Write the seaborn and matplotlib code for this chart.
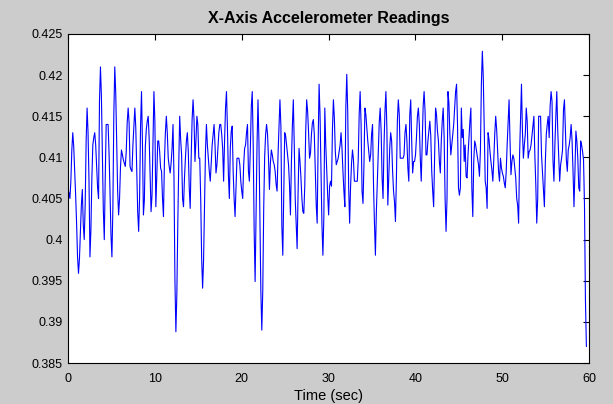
import numpy as np
import pandas as pd
import matplotlib
matplotlib.use("Agg")
import matplotlib.pyplot as plt
import seaborn as sns

# ---- data ----
accel_0_15 = [0.4061, 0.4057, 0.4050, 0.4071, 0.4109, 0.4130, 0.4113, 0.4085, 0.4054, 0.4020, 0.3979, 0.3959, 0.3977, 0.4010, 0.4042, 0.4061, 0.4018, 0.4000, 0.4042, 0.4120, 0.4160, 0.4130, 0.4071, 0.3979, 0.4012, 0.4075, 0.4115, 0.4124, 0.4130, 0.4115, 0.4089, 0.4063, 0.4050, 0.4170, 0.4210, 0.4174, 0.4103, 0.4036, 0.4000, 0.4075, 0.4140, 0.4140, 0.4140, 0.4105, 0.4059, 0.4006, 0.3979, 0.4038, 0.4152, 0.4210, 0.4178, 0.4120, 0.4059, 0.4030, 0.4050, 0.4089, 0.4109, 0.4103, 0.4097, 0.4093, 0.4089, 0.4107, 0.4142, 0.4160, 0.4142, 0.4089, 0.4085, 0.4083, 0.4115, 0.4138, 0.4160, 0.4136, 0.4085, 0.4034, 0.4010, 0.4052, 0.4138, 0.4180, 0.4115, 0.4030, 0.4048, 0.4113, 0.4134, 0.4144, 0.4150, 0.4124, 0.4081, 0.4034, 0.4054, 0.4120, 0.4180, 0.4144, 0.4040, 0.4077, 0.4120, 0.4120, 0.4107, 0.4087, 0.4083, 0.4050, 0.4028, 0.4095, 0.4130, 0.4150, 0.4130, 0.4099, 0.4089, 0.4081, 0.4093, 0.4111, 0.4140, 0.4077, 0.3951, 0.3888, 0.3933, 0.4018, 0.4091, 0.4150, 0.4122, 0.4103, 0.4050, 0.4040, 0.4075, 0.4099, 0.4120, 0.4130, 0.4107, 0.4063, 0.4038, 0.4099, 0.4146, 0.4170, 0.4146, 0.4095, 0.4120, 0.4150, 0.4140, 0.4099]
accel_15_30 = [0.4099, 0.4050, 0.3977, 0.3941, 0.3975, 0.4042, 0.4107, 0.4140, 0.4115, 0.4099, 0.4083, 0.4071, 0.4093, 0.4115, 0.4128, 0.4140, 0.4115, 0.4081, 0.4091, 0.4111, 0.4130, 0.4140, 0.4140, 0.4128, 0.4111, 0.4071, 0.4120, 0.4160, 0.4180, 0.4136, 0.4079, 0.4050, 0.4111, 0.4132, 0.4138, 0.4083, 0.4050, 0.4028, 0.4063, 0.4099, 0.4099, 0.4099, 0.4091, 0.4071, 0.4059, 0.4050, 0.4091, 0.4111, 0.4115, 0.4130, 0.4140, 0.4083, 0.4071, 0.4111, 0.4162, 0.4180, 0.4115, 0.4010, 0.3949, 0.4034, 0.4115, 0.4170, 0.4120, 0.4030, 0.3937, 0.3890, 0.3937, 0.4038, 0.4101, 0.4128, 0.4140, 0.4128, 0.4099, 0.4061, 0.4093, 0.4109, 0.4103, 0.4095, 0.4091, 0.4083, 0.4067, 0.4059, 0.4103, 0.4138, 0.4170, 0.4138, 0.4016, 0.3981, 0.4052, 0.4130, 0.4126, 0.4115, 0.4103, 0.4091, 0.4067, 0.4030, 0.4093, 0.4138, 0.4170, 0.4115, 0.4050, 0.4020, 0.3989, 0.4057, 0.4111, 0.4095, 0.4075, 0.4050, 0.4034, 0.4032, 0.4065, 0.4132, 0.4170, 0.4156, 0.4130, 0.4099, 0.4105, 0.4128, 0.4142, 0.4146, 0.4128, 0.4085, 0.4042, 0.4020, 0.4115, 0.4189, 0.4152, 0.4085, 0.4018, 0.3981, 0.4028, 0.4160, 0.4115, 0.4085, 0.4054, 0.4030, 0.4065, 0.4071]
accel_30_45 = [0.4065, 0.4134, 0.4170, 0.4148, 0.4107, 0.4091, 0.4095, 0.4099, 0.4107, 0.4115, 0.4130, 0.4111, 0.4083, 0.4059, 0.4040, 0.4160, 0.4201, 0.4156, 0.4063, 0.4020, 0.4065, 0.4093, 0.4109, 0.4097, 0.4071, 0.4071, 0.4071, 0.4071, 0.4097, 0.4152, 0.4180, 0.4140, 0.4059, 0.4044, 0.4091, 0.4160, 0.4152, 0.4136, 0.4120, 0.4107, 0.4095, 0.4103, 0.4128, 0.4140, 0.4067, 0.4020, 0.3981, 0.4034, 0.4071, 0.4107, 0.4142, 0.4160, 0.4132, 0.4075, 0.4050, 0.4115, 0.4156, 0.4180, 0.4136, 0.4042, 0.4075, 0.4111, 0.4130, 0.4120, 0.4083, 0.4059, 0.4046, 0.4022, 0.4075, 0.4144, 0.4170, 0.4152, 0.4099, 0.4099, 0.4099, 0.4099, 0.4103, 0.4130, 0.4140, 0.4120, 0.4087, 0.4071, 0.4152, 0.4170, 0.4120, 0.4081, 0.4095, 0.4095, 0.4103, 0.4124, 0.4150, 0.4160, 0.4140, 0.4099, 0.4071, 0.4115, 0.4162, 0.4180, 0.4156, 0.4103, 0.4103, 0.4120, 0.4132, 0.4144, 0.4126, 0.4083, 0.4059, 0.4040, 0.4103, 0.4160, 0.4152, 0.4132, 0.4120, 0.4095, 0.4081, 0.4120, 0.4144, 0.4160, 0.4124, 0.4050, 0.4010, 0.4050, 0.4180, 0.4166, 0.4128, 0.4103, 0.4115, 0.4126, 0.4140, 0.4160, 0.4180, 0.4189, 0.4140, 0.4063, 0.4054]
accel_45_60 = [0.4063, 0.4160, 0.4124, 0.4134, 0.4095, 0.4115, 0.4077, 0.4075, 0.4103, 0.4124, 0.4144, 0.4160, 0.4063, 0.4028, 0.4095, 0.4120, 0.4115, 0.4107, 0.4099, 0.4091, 0.4077, 0.4109, 0.4189, 0.4229, 0.4197, 0.4136, 0.4071, 0.4063, 0.4038, 0.4130, 0.4122, 0.4107, 0.4095, 0.4085, 0.4071, 0.4097, 0.4128, 0.4150, 0.4134, 0.4107, 0.4083, 0.4071, 0.4099, 0.4087, 0.4081, 0.4077, 0.4069, 0.4063, 0.4083, 0.4115, 0.4142, 0.4170, 0.4120, 0.4079, 0.4095, 0.4103, 0.4099, 0.4087, 0.4075, 0.4050, 0.4042, 0.4020, 0.4103, 0.4146, 0.4189, 0.4132, 0.4099, 0.4115, 0.4128, 0.4160, 0.4144, 0.4099, 0.4107, 0.4109, 0.4115, 0.4126, 0.4138, 0.4150, 0.4103, 0.4067, 0.4020, 0.4050, 0.4150, 0.4150, 0.4150, 0.4103, 0.4083, 0.4061, 0.4040, 0.4095, 0.4128, 0.4140, 0.4150, 0.4124, 0.4162, 0.4180, 0.4168, 0.4097, 0.4071, 0.4115, 0.4150, 0.4180, 0.4132, 0.4103, 0.4071, 0.4091, 0.4099, 0.4109, 0.4158, 0.4170, 0.4134, 0.4097, 0.4083, 0.4109, 0.4115, 0.4124, 0.4140, 0.4120, 0.4083, 0.4040, 0.4083, 0.4132, 0.4120, 0.4099, 0.4063, 0.4059, 0.4120, 0.4115, 0.4107, 0.4097, 0.4042, 0.3926, 0.3870]

t_end = 59.7  # last sample time (sec), uniformly sampled
x_ticks = [0, 10, 20, 30, 40, 50, 60]
y_ticks = [0.385, 0.39, 0.395, 0.4, 0.405, 0.41, 0.415, 0.42, 0.425]
y_tick_labels = ["0.385", "0.39", "0.395", "0.4", "0.405", "0.41", "0.415", "0.42", "0.425"]
title_text = "X-Axis Accelerometer Readings"
xlabel_text = "Time (sec)"

# ---- build table ----
values = accel_0_15 + accel_15_30 + accel_30_45 + accel_45_60
time = np.linspace(0, t_end, len(values))
df = pd.DataFrame({"time": time, "accel": values})

sns.set_style("white")
plt.rcParams["font.family"] = ["Liberation Sans", "DejaVu Sans"]

bg = "#cccccc"
fig = plt.figure(figsize=(6.13, 4.04), dpi=100, facecolor=bg)
ax = fig.add_axes([68 / 613, 1 - 363 / 404, (589 - 68) / 613, (363 - 34) / 404])
ax.set_facecolor("white")

sns.lineplot(data=df, x="time", y="accel", ax=ax, color="#0000ff",
             linewidth=0.8, sort=False, estimator=None)

ax.set_xlim(0, 60)
ax.set_ylim(0.385, 0.425)
ax.set_xticks(x_ticks)
ax.set_xticklabels([str(v) for v in x_ticks])
ax.set_yticks(y_ticks)
ax.set_yticklabels(y_tick_labels)
ax.tick_params(direction="in", length=4, width=0.8, color="black",
               top=True, right=True, labelsize=9, labelcolor="black")
ax.tick_params(axis="x", pad=7)
ax.tick_params(axis="y", pad=4)
for s in ax.spines.values():
    s.set_visible(True)
    s.set_color("black")
    s.set_linewidth(0.8)

ax.set_xlabel(xlabel_text, fontsize=10.5, labelpad=3, color="black")
ax.set_ylabel("")
ax.set_title(title_text, fontsize=11.5, fontweight="bold", pad=8, color="black")

fig.savefig("out.png", dpi=100, facecolor=bg)
